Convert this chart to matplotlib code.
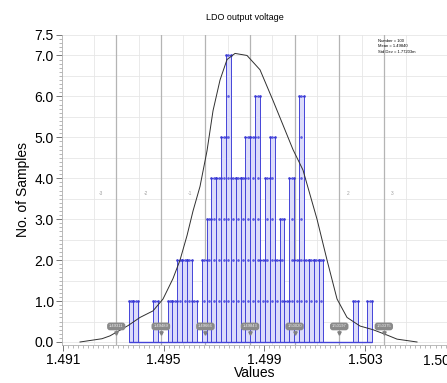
import matplotlib
matplotlib.use("Agg")
import matplotlib.pyplot as plt
import numpy as np
from matplotlib.ticker import MultipleLocator

plt.rcParams['font.family'] = ['Liberation Sans', 'DejaVu Sans']

# ---- data ----
title = "LDO output voltage"
n_samples = 100
mean_v = 1.49843
std_v = 0.00177203
first_edge = 1.493606
bin_width = 0.0001935
counts = [1, 1, 0, 0, 0, 1, 0, 0, 1, 1, 2, 2, 2, 1, 0, 2, 3, 4, 4, 5,
          7, 4, 4, 4, 5, 5, 6, 2, 4, 5, 2, 3, 1, 4, 2, 6, 2, 2, 2, 2,
          0, 0, 0, 0, 0, 0, 1, 0, 0, 1]
curve_x = [1.491675, 1.492549, 1.492867, 1.493582, 1.494059, 1.494576, 1.494973,
           1.495370, 1.495648, 1.495927, 1.496165, 1.496443, 1.496721, 1.496960,
           1.497238, 1.497516, 1.497834, 1.498310, 1.498827, 1.499343, 1.499741,
           1.500138, 1.500535, 1.500813, 1.501092, 1.501490, 1.501887, 1.502284,
           1.502801, 1.503317, 1.503873, 1.504271, 1.505065]
curve_y = [0.0, 0.08, 0.15, 0.4, 0.6, 0.76, 1.05, 1.55, 2.0, 2.6, 3.2, 3.8, 4.67,
           5.65, 6.4, 6.9, 7.05, 7.0, 6.65, 5.9, 5.3, 4.7, 4.2, 3.6, 3.0, 2.0, 1.05,
           0.6, 0.39, 0.3, 0.17, 0.07, 0.0]
sigma_k = [-3, -2, -1, 0, 1, 2, 3]
x_ticks = [1.491, 1.495, 1.499, 1.503]
x_tick_labels = ["1.491", "1.495", "1.499", "1.503"]
last_x_tick = 1.507
y_ticks = [0, 1, 2, 3, 4, 5, 6, 7, 7.5]
y_tick_labels = ["0.0", "1.0", "2.0", "3.0", "4.0", "5.0", "6.0", "7.0", "7.5"]

fig = plt.figure(figsize=(4.47, 3.83), dpi=100)
ax = fig.add_axes([62/447, 38/383, 1 - 62/447, (345-35)/383])
ax.set_xlim(1.49096, 1.506256)
ax.set_ylim(-0.0733, 7.5)

# grid
for yv in np.arange(0, 7.51, 0.5):
    ax.axhline(yv, color='#e6e6e6', lw=0.6, zorder=0)
for k in range(-4, 4):
    ax.axvline(mean_v + (k + 0.5) * std_v, color='#e6e6e6', lw=0.6, zorder=0)
for k in sigma_k:
    ax.axvline(mean_v + k * std_v, color='#b4b4b4', lw=0.9, zorder=0.5)

# sigma index labels
for k in sigma_k:
    if k == 0:
        continue
    off = -0.0006 if k < 0 else 0.00035
    ax.text(mean_v + k * std_v + off, 3.62, str(k), fontsize=3.5, color='#a0a0a0',
            ha='center', va='center', zorder=0.6)

# histogram bars
edges = first_edge + bin_width * np.arange(len(counts))
ax.bar(edges, counts, width=bin_width, align='edge', color='#dcdcfa',
       edgecolor='#4444d8', linewidth=0.7, zorder=2)
ax.hlines(0, edges[0], edges[-1] + bin_width, color='#4444d8', lw=1.0, zorder=2.1)
for e, c in zip(edges, counts):
    if c > 0:
        lv = np.arange(1, c + 1)
        ax.plot(np.full(c, e + bin_width / 2), lv, ls='none', marker='o',
                ms=0.9, color='#5a5ae0', zorder=3)
        ax.plot([e, e + bin_width], [c, c], ls='none', marker='o', ms=0.9,
                color='#3a3ad4', zorder=3)

# density curve
ax.plot(curve_x, curve_y, color='#303030', lw=0.7, zorder=4)

# sigma value boxes
for k in sigma_k:
    xv = mean_v + k * std_v
    ax.plot([xv], [0.22], marker='v', ms=2.4, color='#808080', zorder=5)
    ax.text(xv, 0.38, f"{xv:.5f}", fontsize=3.0, color='#f0f0f0', ha='center',
            va='center', zorder=6,
            bbox=dict(boxstyle='round,pad=0.45,rounding_size=0.7', fc='#8a8a8a', ec='none'))

# stats text
ax.text(1.50352, 7.22, f"Number = {n_samples}\nMean = 1.49840\nStd Dev = 1.77203m",
        fontsize=3.0, ha='left', va='center', linespacing=1.4, zorder=6)

# axes styling
for s in ['top', 'right']:
    ax.spines[s].set_visible(False)
for s in ['left', 'bottom']:
    ax.spines[s].set_color('#b0b0b0')
    ax.spines[s].set_linewidth(0.6)

ax.set_xticks(x_ticks)
ax.set_xticklabels(x_tick_labels, fontsize=10)
ax.xaxis.set_minor_locator(MultipleLocator(0.0002))
ax.set_yticks(y_ticks)
ax.set_yticklabels(y_tick_labels, fontsize=10)
ax.yaxis.set_minor_locator(MultipleLocator(0.1))
ax.tick_params(axis='both', which='major', direction='out', length=4, width=0.6,
               color='#606060', pad=2)
ax.tick_params(axis='both', which='minor', direction='out', length=2, width=0.4,
               color='#808080')

ax.annotate("1.507", xy=(last_x_tick, 0), xycoords=('data', 'axes fraction'),
            xytext=(-18.5, -6.2), textcoords='offset points', fontsize=10,
            ha='center', va='top', annotation_clip=False)

ax.set_xlabel("Values", fontsize=10, labelpad=-1)
ax.set_ylabel("No. of Samples", fontsize=10, labelpad=3)
fig.text(245/447, 1 - 18/383, title, fontsize=6.5, ha='center', va='center')

fig.savefig("out.png", dpi=100)
